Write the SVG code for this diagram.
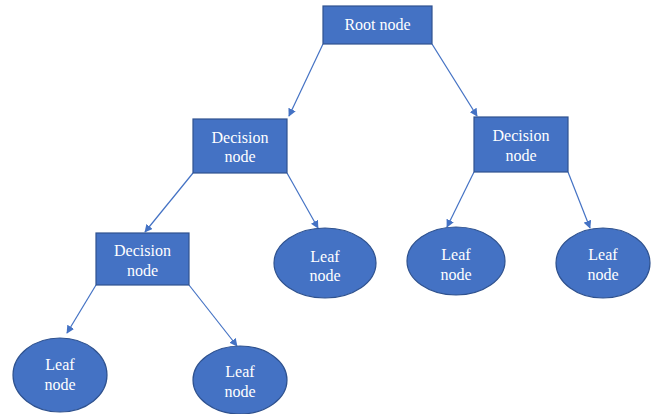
<svg xmlns="http://www.w3.org/2000/svg" width="658" height="414" viewBox="0 0 658 414">
<style>
.n{fill:#4472C4;stroke:#2F528F;stroke-width:1.2}
.t{fill:#fff;font-family:"Liberation Serif",serif;font-size:16px;text-anchor:middle}
.c{stroke:#4472C4;stroke-width:1.2;fill:none;marker-end:url(#a)}
</style>
<defs>
<marker id="a" viewBox="0 0 10 10" refX="9" refY="5" markerWidth="8" markerHeight="8" markerUnits="userSpaceOnUse" orient="auto">
<path d="M0,0 L10,5 L0,10 z" fill="#4472C4"/>
</marker>
</defs>
<rect width="658" height="414" fill="#fff"/>
<g id="connectors">
<line class="c" x1="323" y1="44" x2="289" y2="116"/>
<line class="c" x1="432" y1="44" x2="477" y2="116"/>
<line class="c" x1="193" y1="173" x2="145" y2="232"/>
<line class="c" x1="287" y1="173" x2="318" y2="228"/>
<line class="c" x1="96" y1="285" x2="67" y2="333"/>
<line class="c" x1="189" y1="285" x2="237" y2="346"/>
<line class="c" x1="474" y1="172" x2="447" y2="227"/>
<line class="c" x1="568" y1="172" x2="590" y2="228"/>
</g>
<g id="root"><rect class="n" x="323" y="6" width="109" height="38"/><text class="t" x="377.5" y="30">Root node</text></g>
<g id="decision1"><rect class="n" x="193" y="119" width="94" height="54"/><text class="t" x="240" y="143">Decision</text><text class="t" x="240" y="162">node</text></g>
<g id="decision2"><rect class="n" x="474" y="117" width="94" height="55"/><text class="t" x="521" y="141">Decision</text><text class="t" x="521" y="161">node</text></g>
<g id="decision3"><rect class="n" x="96" y="233" width="93" height="52"/><text class="t" x="142.5" y="256">Decision</text><text class="t" x="142.5" y="276">node</text></g>
<g id="leaf1"><ellipse class="n" cx="325" cy="263" rx="51" ry="35"/><text class="t" x="325" y="262">Leaf</text><text class="t" x="325" y="281">node</text></g>
<g id="leaf2"><ellipse class="n" cx="456" cy="261" rx="49" ry="34"/><text class="t" x="456" y="260">Leaf</text><text class="t" x="456" y="280">node</text></g>
<g id="leaf3"><ellipse class="n" cx="603" cy="263" rx="47" ry="35"/><text class="t" x="603" y="260">Leaf</text><text class="t" x="603" y="280">node</text></g>
<g id="leaf4"><ellipse class="n" cx="60" cy="375" rx="47" ry="37"/><text class="t" x="60" y="370">Leaf</text><text class="t" x="60" y="390">node</text></g>
<g id="leaf5"><ellipse class="n" cx="240" cy="380" rx="47" ry="34"/><text class="t" x="240" y="377">Leaf</text><text class="t" x="240" y="397">node</text></g>
</svg>
